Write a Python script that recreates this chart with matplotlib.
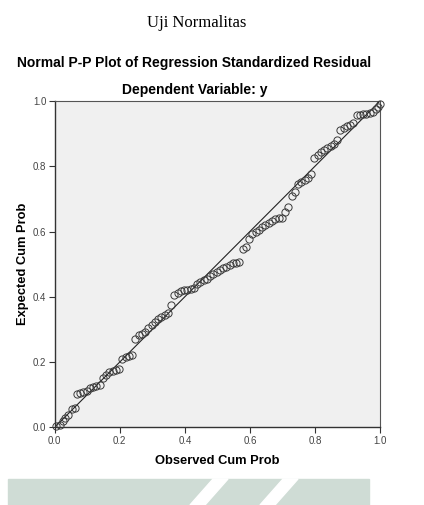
import matplotlib
matplotlib.use('Agg')
import matplotlib.pyplot as plt
from matplotlib.patches import Polygon, Rectangle

# figure settings
W, H = 424, 505
dpi = 100
sans = ['Liberation Sans', 'DejaVu Sans']
serif = ['Liberation Serif', 'DejaVu Serif']
point_color = '#3a3a3a'
face_color = '#f0f0f0'

# data
observed = [0.005, 0.016, 0.025, 0.033, 0.042, 0.052, 0.062, 0.068, 0.078, 0.088,
            0.098, 0.108, 0.118, 0.128, 0.138, 0.148, 0.158, 0.168, 0.178, 0.188,
            0.198, 0.208, 0.218, 0.228, 0.238, 0.248, 0.258, 0.268, 0.278, 0.288,
            0.298, 0.308, 0.318, 0.328, 0.338, 0.348, 0.358, 0.368, 0.378, 0.388,
            0.398, 0.408, 0.418, 0.428, 0.438, 0.448, 0.458, 0.468, 0.478, 0.488,
            0.498, 0.508, 0.518, 0.528, 0.538, 0.548, 0.558, 0.568, 0.578, 0.588,
            0.598, 0.608, 0.618, 0.628, 0.638, 0.648, 0.658, 0.668, 0.678, 0.688,
            0.698, 0.708, 0.718, 0.728, 0.738, 0.748, 0.758, 0.768, 0.778, 0.788,
            0.798, 0.808, 0.818, 0.828, 0.838, 0.848, 0.858, 0.868, 0.878, 0.888,
            0.898, 0.908, 0.918, 0.928, 0.938, 0.948, 0.958, 0.968, 0.978, 0.988,
            0.995, 1.000]
expected = [0.003, 0.007, 0.018, 0.028, 0.038, 0.055, 0.058, 0.103, 0.106, 0.108,
            0.112, 0.120, 0.125, 0.128, 0.130, 0.150, 0.160, 0.168, 0.172, 0.177,
            0.180, 0.208, 0.214, 0.218, 0.222, 0.272, 0.284, 0.287, 0.292, 0.303,
            0.312, 0.322, 0.332, 0.338, 0.345, 0.350, 0.375, 0.405, 0.413, 0.418,
            0.420, 0.422, 0.424, 0.428, 0.440, 0.446, 0.450, 0.455, 0.465, 0.470,
            0.477, 0.482, 0.488, 0.492, 0.498, 0.503, 0.505, 0.508, 0.545, 0.553,
            0.578, 0.592, 0.600, 0.606, 0.613, 0.620, 0.626, 0.633, 0.638, 0.640,
            0.642, 0.660, 0.676, 0.709, 0.722, 0.746, 0.753, 0.758, 0.765, 0.775,
            0.826, 0.835, 0.845, 0.850, 0.857, 0.862, 0.868, 0.880, 0.912, 0.918,
            0.922, 0.926, 0.934, 0.956, 0.958, 0.960, 0.960, 0.962, 0.965, 0.975,
            0.983, 0.990]
ref_line = [0.0, 1.0]
ticks = [0.0, 0.2, 0.4, 0.6, 0.8, 1.0]
tick_labels = ['0.0', '0.2', '0.4', '0.6', '0.8', '1.0']

def fx(px):
  return px / W

def fy(py):
  return 1 - py / H

fig = plt.figure(figsize=(W / dpi, H / dpi), dpi=dpi)
ax = fig.add_axes([fx(54.7), fy(427.3), fx(380) - fx(54.7), fy(101) - fy(427.3)])
ax.set_facecolor(face_color)

ax.plot(ref_line, ref_line, color='#222222', lw=0.8, zorder=2)
ax.plot(observed, expected, ls='none', marker='o', ms=5.2, mfc='none',
        mec=point_color, mew=0.7, zorder=3, clip_on=False)

ax.set_xlim(0, 1)
ax.set_ylim(0, 1)
ax.set_xticks(ticks)
ax.set_yticks(ticks)
ax.set_xticklabels(tick_labels, family=sans)
ax.set_yticklabels(tick_labels, family=sans)
ax.tick_params(axis='both', labelsize=7, length=4, width=0.8, color='#333333',
               labelcolor='#444444', pad=2)
for side in ['left', 'bottom']:
  ax.spines[side].set_color('#333333')
  ax.spines[side].set_linewidth(1.0)
for side in ['top', 'right']:
  ax.spines[side].set_color('#555555')
  ax.spines[side].set_linewidth(0.8)

ax.set_xlabel('Observed Cum Prob', family=sans, fontsize=9.3, fontweight='bold', labelpad=6.5)
ax.set_ylabel('Expected Cum Prob', family=sans, fontsize=9.3, fontweight='bold', labelpad=3)

fig.text(fx(197), fy(23), 'Uji Normalitas', family=serif, fontsize=12,
         ha='center', va='center')
fig.text(fx(194), fy(63), 'Normal P-P Plot of Regression Standardized Residual',
         family=sans, fontsize=10, fontweight='bold', ha='center', va='center')
fig.text(fx(195), fy(90), 'Dependent Variable: y', family=sans, fontsize=10,
         fontweight='bold', ha='center', va='center')

# greenish banner at the bottom with two white stripes
fig.patches.append(Rectangle((fx(8), fy(505)), fx(369) - fx(8), fy(479) - fy(505),
                             transform=fig.transFigure, color='#cfdcd5', zorder=0))
for x_top in [213, 283]:
  pts = [(fx(x_top), fy(479)), (fx(x_top + 15), fy(479)),
         (fx(x_top - 8), fy(505)), (fx(x_top - 23), fy(505))]
  fig.patches.append(Polygon(pts, closed=True, transform=fig.transFigure,
                             color='white', zorder=1))

fig.savefig('out.png', dpi=dpi)
